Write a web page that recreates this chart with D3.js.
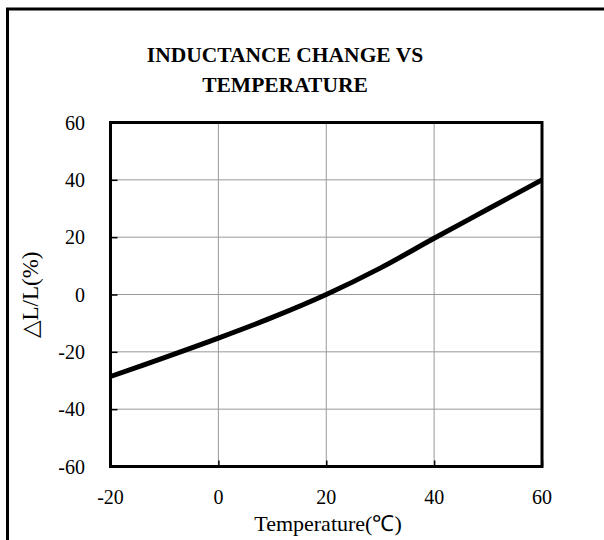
<!DOCTYPE html>
<html>
<head>
<meta charset="utf-8">
<script src="https://cdn.jsdelivr.net/npm/d3@7"></script>
<style>
  html, body { margin: 0; padding: 0; background: #fff; }
  svg { display: block; }
  text { font-family: "Liberation Serif", "Times New Roman", serif; fill: #000; }
</style>
</head>
<body>
<svg id="chart" width="604" height="540"></svg>
<script>
// Temperature (°C) and inductance change (%)
const temperature = [-20, -10, 0, 10, 20, 30, 40, 50, 60];
const deltaL = [-28.6, -22, -15.2, -8, 0, 9.2, 19.6, 29.8, 40];

const xTicks = [-20, 0, 20, 40, 60];
const yTicks = [-60, -40, -20, 0, 20, 40, 60];

const titleLines = ["INDUCTANCE CHANGE VS", "TEMPERATURE"];
const xTitle = "Temperature(℃)";
const yTitle = "△L/L(%)";

const W = 604, H = 540;
const plot = { left: 110.5, right: 542, top: 122.5, bottom: 466.5 };

const svg = d3.select("#chart");

// outer frame (runs off the right and bottom edges)
svg.append("rect")
  .attr("x", 7.5).attr("y", 9)
  .attr("width", W + 20).attr("height", H + 20)
  .attr("fill", "#fff").attr("stroke", "#000").attr("stroke-width", 3);

const x = d3.scaleLinear().domain([-20, 60]).range([plot.left, plot.right]);
const y = d3.scaleLinear().domain([-60, 60]).range([plot.bottom, plot.top]);

// grid
const grid = svg.append("g");
grid.selectAll("line.v").data(xTicks.slice(1, -1)).join("line")
  .attr("x1", d => x(d)).attr("x2", d => x(d))
  .attr("y1", plot.top).attr("y2", plot.bottom)
  .attr("stroke", "#999").attr("stroke-width", 1);
grid.selectAll("line.h").data(yTicks.slice(1, -1)).join("line")
  .attr("x1", plot.left).attr("x2", plot.right)
  .attr("y1", d => y(d)).attr("y2", d => y(d))
  .attr("stroke", "#999").attr("stroke-width", 1);

// inward tick marks
const yAxis = d3.axisLeft(y).tickValues(yTicks).tickSize(-7).tickFormat("");
const xAxis = d3.axisBottom(x).tickValues(xTicks).tickSize(-6).tickFormat("");
svg.append("g").attr("transform", `translate(${plot.left},0)`).call(yAxis)
  .call(g => g.select(".domain").remove())
  .selectAll("line").attr("stroke", "#000").attr("stroke-width", 1.5);
svg.append("g").attr("transform", `translate(0,${plot.bottom})`).call(xAxis)
  .call(g => g.select(".domain").remove())
  .selectAll("line").attr("stroke", "#000").attr("stroke-width", 1.5);

// curve
const line = d3.line()
  .x((d, i) => x(temperature[i]))
  .y(d => y(d))
  .curve(d3.curveCatmullRom.alpha(0.5));
svg.append("path")
  .datum(deltaL)
  .attr("d", line)
  .attr("fill", "none")
  .attr("stroke", "#000")
  .attr("stroke-width", 5)
  .attr("stroke-linejoin", "round");

// plot frame
svg.append("rect")
  .attr("x", plot.left).attr("y", plot.top)
  .attr("width", plot.right - plot.left).attr("height", plot.bottom - plot.top)
  .attr("fill", "none").attr("stroke", "#000").attr("stroke-width", 3);

// tick labels
svg.append("g").selectAll("text").data(yTicks).join("text")
  .attr("x", 85).attr("y", d => y(d))
  .attr("dy", "0.35em")
  .attr("text-anchor", "end")
  .attr("font-size", 20)
  .text(d => d);
svg.append("g").selectAll("text").data(xTicks).join("text")
  .attr("x", d => x(d)).attr("y", 504)
  .attr("text-anchor", "middle")
  .attr("font-size", 20)
  .text(d => d);

// titles
svg.append("g").selectAll("text").data(titleLines).join("text")
  .attr("x", 285).attr("y", (d, i) => 62 + i * 30)
  .attr("text-anchor", "middle")
  .attr("font-size", 21.5)
  .attr("font-weight", "bold")
  .text(d => d);

svg.append("text")
  .attr("x", 328).attr("y", 531)
  .attr("text-anchor", "middle")
  .attr("font-size", 22)
  .text(xTitle);

svg.append("text")
  .attr("transform", "translate(38,295) rotate(-90)")
  .attr("text-anchor", "middle")
  .attr("font-size", 23)
  .text(yTitle);
</script>
</body>
</html>
